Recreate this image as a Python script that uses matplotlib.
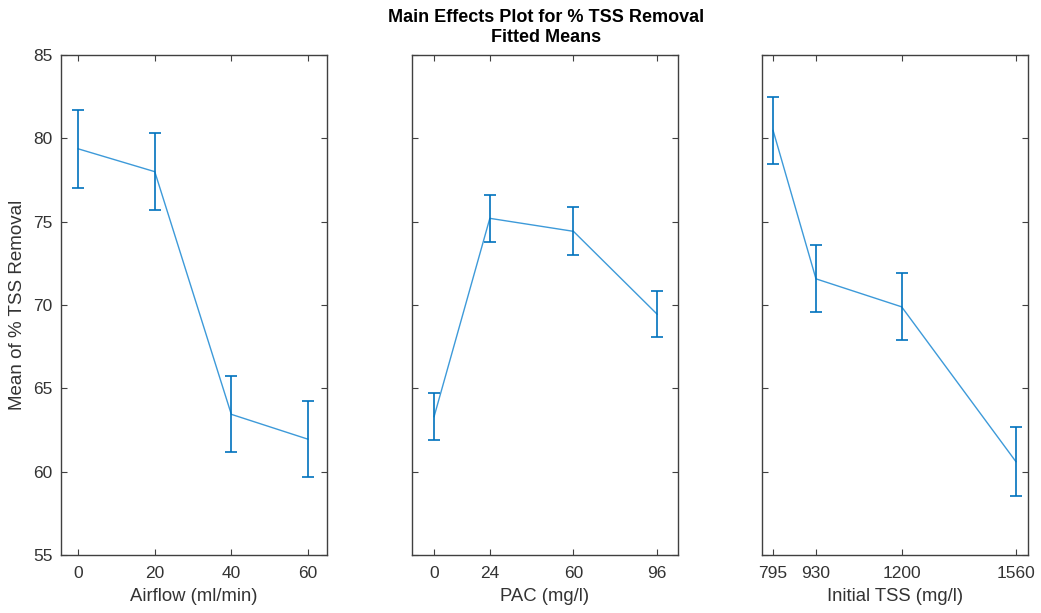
import matplotlib.pyplot as plt

plt.rcParams["font.family"] = ["Liberation Sans", "DejaVu Sans"]

airflow = [0, 20, 40, 60]
airflow_mean = [79.37, 78.0, 63.44, 61.95]
airflow_err = [2.33, 2.30, 2.28, 2.30]

pac = [0, 24, 60, 96]
pac_mean = [63.3, 75.2, 74.42, 69.45]
pac_err = [1.42, 1.42, 1.43, 1.38]

tss = [795, 930, 1200, 1560]
tss_mean = [80.47, 71.57, 69.89, 60.6]
tss_err = [2.02, 2.02, 2.02, 2.05]

panels = [
    (airflow, airflow_mean, airflow_err, "Airflow (ml/min)", (-4.5, 65)),
    (pac, pac_mean, pac_err, "PAC (mg/l)", (-9.5, 105)),
    (tss, tss_mean, tss_err, "Initial TSS (mg/l)", (760, 1598)),
]

W, H = 1041, 613
lefts = [61, 412, 762]
width = 266
bottom, top = 555, 55

fig = plt.figure(figsize=(W / 100, H / 100), dpi=100)
axcol = "#404040"
textcol = "#333333"

for i, (x, m, e, xlabel, xlim) in enumerate(panels):
    ax = fig.add_axes([lefts[i] / W, 1 - bottom / H, width / W, (bottom - top) / H])
    ax.plot(x, m, color="#3d9ad9", lw=1.0, zorder=2)
    ax.errorbar(x, m, yerr=e, fmt="none", ecolor="#0072BD", elinewidth=1.2,
                capsize=4.3, capthick=1.2, zorder=3)
    ax.set_xlim(*xlim)
    ax.set_ylim(55, 85)
    ax.set_xticks(x)
    ax.set_xticklabels([str(v) for v in x])
    ax.set_yticks([55, 60, 65, 70, 75, 80, 85])
    ax.tick_params(direction="in", length=4, width=0.8, color=axcol,
                   labelcolor=textcol, labelsize=12.5, top=True, right=True, pad=6)
    ax.tick_params(axis="x", pad=8)
    if i > 0:
        ax.tick_params(labelleft=False)
    else:
        ax.set_ylabel("Mean of % TSS Removal", fontsize=13.5, color=textcol, labelpad=5)
    ax.set_xlabel(xlabel, fontsize=13.3, color=textcol, labelpad=5)
    for s in ax.spines.values():
        s.set_color(axcol)
        s.set_linewidth(1.0)

fig.text(546 / W, 1 - 17 / H, "Main Effects Plot for % TSS Removal",
         ha="center", va="center", fontsize=13, fontweight="bold", color="black")
fig.text(546 / W, 1 - 38 / H, "Fitted Means",
         ha="center", va="center", fontsize=13, fontweight="bold", color="black")

fig.savefig("out.png", dpi=100)
